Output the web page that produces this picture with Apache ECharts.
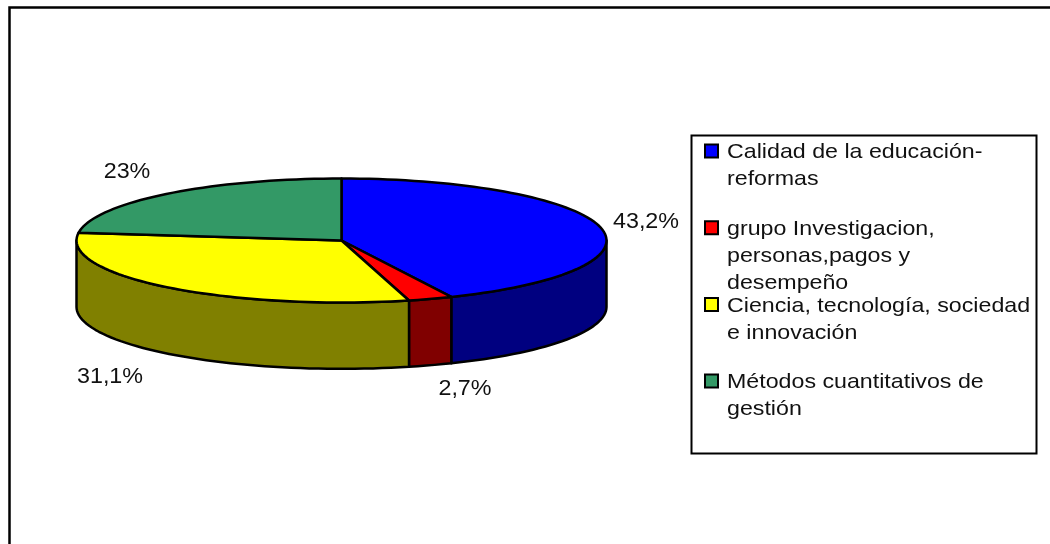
<!DOCTYPE html>
<html>
<head>
<meta charset="utf-8">
<style>
  html, body { margin: 0; padding: 0; background: #fff; }
  #chart { width: 1050px; height: 544px; }
</style>
<script src="https://cdn.jsdelivr.net/npm/echarts@6/dist/echarts.min.js"></script>
</head>
<body>
<div id="chart"></div>
<script>
var categories = [
  "Calidad de la educación-\nreformas",
  "grupo Investigacion,\npersonas,pagos y\ndesempeño",
  "Ciencia, tecnología, sociedad\ne innovación",
  "Métodos cuantitativos de\ngestión"
];
var values = [43.2, 2.7, 31.1, 23];
var topColors = ["#0000ff", "#ff0000", "#ffff00", "#339966"];
var sideColors = ["#000080", "#800000", "#808000", "#1f5c3d"];

// where the value labels sit, in page pixels
var labelSpots = [[646, 222], [465, 389], [110, 377], [127, 172]];

var FONT = '"Liberation Sans", Arial, sans-serif';
var DEPTH = 1.07; // wall height, in units of the ellipse's vertical radius
var total = values.reduce(function (a, b) { return a + b; }, 0);

// start and end angle of each slice, clockwise from 12 o'clock
var rows = [];
var acc = 0;
values.forEach(function (v, i) {
  rows.push([acc / total * 360, (acc + v) / total * 360, i]);
  acc += v;
});

function rim(api, from, to, drop) {
  var pts = [];
  var n = Math.max(2, Math.ceil((to - from) / 2));
  for (var k = 0; k <= n; k++) {
    var t = (from + (to - from) * k / n) * Math.PI / 180;
    pts.push(api.coord([Math.sin(t), Math.cos(t) - drop]));
  }
  return pts;
}

function renderSlice(params, api) {
  var a = api.value(0), b = api.value(1), i = api.value(2);
  var children = [];
  var line = { stroke: "#000", lineWidth: 2.5, lineJoin: "round" };

  // only the part of the rim facing the viewer gets a wall
  var from = Math.max(a, 90), to = Math.min(b, 270);
  if (to > from) {
    var wall = rim(api, from, to, 0).concat(rim(api, from, to, DEPTH).reverse());
    children.push({
      type: "polygon",
      shape: { points: wall },
      style: Object.assign({ fill: sideColors[i] }, line)
    });
  }
  children.push({
    type: "polygon",
    shape: { points: [api.coord([0, 0])].concat(rim(api, a, b, 0)) },
    style: Object.assign({ fill: topColors[i] }, line)
  });
  children.push({
    type: "text",
    x: labelSpots[i][0],
    y: labelSpots[i][1],
    scaleX: 1.06,
    style: {
      text: String(values[i]).replace(".", ",") + "%",
      font: "22px " + FONT,
      fill: "#111",
      align: "center",
      verticalAlign: "middle"
    }
  });
  return { type: "group", children: children };
}

// legend box, the entries are evenly spaced whatever their line count
var legendItems = [];
categories.forEach(function (name, i) {
  var y = 151 + i * 76.7;
  legendItems.push({
    type: "rect",
    shape: { x: 705, y: y - 6.5, width: 13, height: 13 },
    style: { fill: topColors[i], stroke: "#000", lineWidth: 2 }
  });
  legendItems.push({
    type: "text",
    x: 727,
    y: y - 12,
    scaleX: 1.105,
    style: {
      text: name,
      font: "21px " + FONT,
      lineHeight: 27,
      fill: "#111",
      verticalAlign: "top"
    }
  });
});

var chart = echarts.init(document.getElementById("chart"), null, { renderer: "canvas" });
chart.setOption({
  animation: false,
  backgroundColor: "#fff",
  grid: { left: 76.5, width: 530, top: 178.5, height: 62 * (2 + DEPTH) },
  xAxis: { type: "value", min: -1, max: 1, show: false },
  yAxis: { type: "value", min: -1 - DEPTH, max: 1, show: false },
  graphic: [
    {
      type: "rect",
      shape: { x: 9.5, y: 7.5, width: 1060, height: 560 },
      style: { fill: "none", stroke: "#000", lineWidth: 2.5 }
    },
    {
      type: "rect",
      shape: { x: 691.5, y: 135.5, width: 345, height: 318 },
      style: { fill: "#fff", stroke: "#000", lineWidth: 2 }
    }
  ].concat(legendItems),
  series: [
    {
      type: "custom",
      coordinateSystem: "cartesian2d",
      clip: false,
      silent: true,
      renderItem: renderSlice,
      encode: { x: 0, y: 1 },
      data: rows
    }
  ]
});
</script>
</body>
</html>
